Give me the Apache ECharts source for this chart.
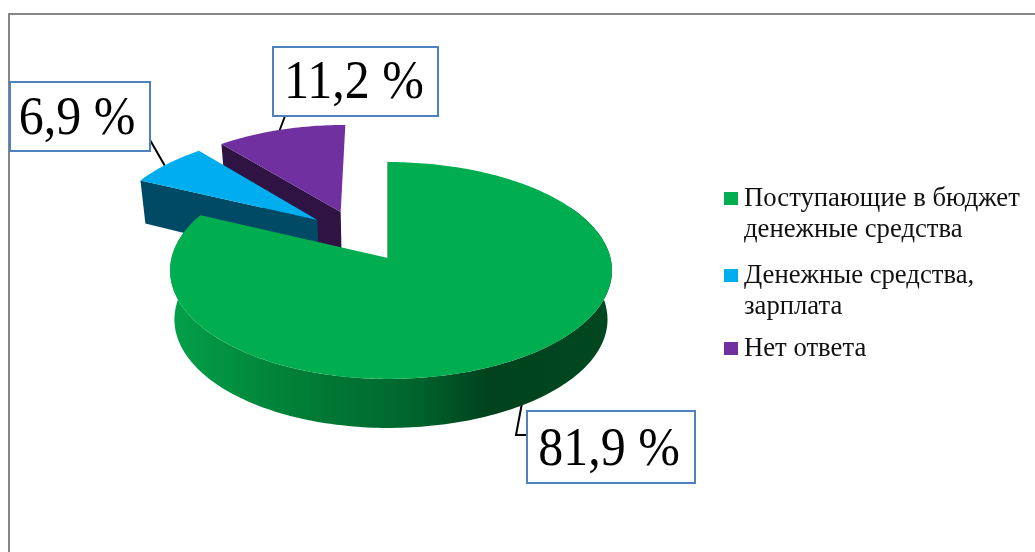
<!DOCTYPE html>
<html>
<head>
<meta charset="utf-8">
<title>Pie</title>
<style>
  html, body { margin: 0; padding: 0; background: #fff; }
  #chart { width: 1035px; height: 552px; }
</style>
<script src="https://cdn.jsdelivr.net/npm/echarts@6/dist/echarts.min.js"></script>
</head>
<body>
<div id="chart"></div>
<script>
// данные с картинки
const categories = ['Поступающие в бюджет\nденежные средства', 'Денежные средства,\nзарплата', 'Нет ответа'];
const shares = [81.9, 6.9, 11.2];

const colors = ['#00ad4f', '#00aeef', '#7030a0'];
const wallColors = ['#00652d', '#004a66', '#2f1443'];
const FONT = '"Liberation Serif", serif';

// перспектива диска: вершина, радиусы, наклон
const CX = 388, CY = 258, KX_LEFT = 216.5, KX_RIGHT = 222.5, KY = 107, P = 0.1152, LOWER_SCALE = 0.98;
// смещение выдвинутых секторов в плоскости диска
const explode = [[0, 0], [-0.34, 0.37], [-0.23, 0.452]];

function project(u, v, lower) {
    const w = 1 + P * v;
    const X = u / w, V = v / w;
    const kx = X < 0 ? KX_LEFT : KX_RIGHT;
    if (!lower) return [CX + kx * X, CY - KY * V];
    const depth = V > 0 ? 49 - 8.4 * V : 49;
    return [CX + kx * X * LOWER_SCALE, CY - KY * V + depth];
}

// углы секторов по часовой стрелке от 12 часов
const total = shares.reduce((a, b) => a + b, 0);
function sliceAngles(i) {
    const before = shares.slice(0, i).reduce((a, b) => a + b, 0);
    return [before / total * 2 * Math.PI, (before + shares[i]) / total * 2 * Math.PI];
}

function rimPoint(i, ang, lower) {
    return project(explode[i][0] + Math.sin(ang), explode[i][1] + Math.cos(ang), lower);
}

function arcPoints(i, from, to, lower) {
    const pts = [];
    const n = Math.max(2, Math.ceil(Math.abs(to - from) / 0.02));
    for (let k = 0; k <= n; k++) pts.push(rimPoint(i, from + (to - from) * k / n, lower));
    return pts;
}

function renderSlice(i) {
    return function () {
        const [a0, a1] = sliceAngles(i);
        const apexTop = project(explode[i][0], explode[i][1], false);
        const apexLow = project(explode[i][0], explode[i][1], true);
        const children = [];
        if (i === 0) {
            // внешняя стенка большого сектора
            const from = 60 * Math.PI / 180;
            const low = arcPoints(i, from, a1, true);
            const top = arcPoints(i, a1, from, false);
            children.push({
                type: 'polygon',
                shape: { points: low.concat(top) },
                style: {
                    fill: new echarts.graphic.LinearGradient(0, 0, 1, 0, [
                        { offset: 0, color: '#04a04a' },
                        { offset: 0.28, color: '#007f37' },
                        { offset: 0.55, color: '#00652d' },
                        { offset: 0.72, color: '#00421d' },
                        { offset: 1, color: '#004820' }
                    ])
                }
            });
            // ребро разреза у 12 часов
            children.push({
                type: 'line',
                shape: { x1: apexTop[0], y1: apexTop[1], x2: rimPoint(i, 0, false)[0], y2: rimPoint(i, 0, false)[1] },
                style: { stroke: '#004d22', lineWidth: 1 }
            });
        } else {
            // стенка по нижнему разрезу
            const cTop = rimPoint(i, a0, false), cLow = rimPoint(i, a0, true);
            children.push({
                type: 'polygon',
                shape: { points: [cTop, apexTop, apexLow, cLow] },
                style: { fill: wallColors[i] }
            });
        }
        children.push({
            type: 'polygon',
            shape: { points: [apexTop].concat(arcPoints(i, a0, a1, false)) },
            style: { fill: colors[i] }
        });
        return { type: 'group', children: children };
    };
}

// рамки подписей и выноски
const labelBoxes = [
    { x: 527, y: 411, w: 168, h: 72, tx: 609, ty: 451, leader: [[522, 403], [516, 435], [527, 435]] },
    { x: 10, y: 82, w: 140, h: 69, tx: 77, ty: 120, leader: [[150, 140], [165, 166]] },
    { x: 273, y: 47, w: 165, h: 69, tx: 354, ty: 84, leader: [[285, 116], [279, 132]] }
];

function renderLeader(params) {
    const b = labelBoxes[params.dataIndex];
    return {
        type: 'polyline',
        shape: { points: b.leader },
        style: { stroke: '#000', fill: 'none', lineWidth: 2 }
    };
}

function renderLabel(params) {
    const b = labelBoxes[params.dataIndex];
    return {
        type: 'group',
        children: [
            {
                type: 'rect',
                shape: { x: b.x, y: b.y, width: b.w, height: b.h },
                style: { fill: '#fff', stroke: '#4f81bd', lineWidth: 2 }
            },
            {
                type: 'text',
                x: b.tx,
                y: b.ty,
                scaleY: 1.08,
                style: {
                    x: 0,
                    y: 0,
                    text: shares[params.dataIndex].toFixed(1).replace('.', ',') + ' %',
                    font: '50px ' + FONT,
                    fill: '#000',
                    align: 'center',
                    verticalAlign: 'middle'
                }
            }
        ]
    };
}

const sliceSeries = shares.map((v, i) => ({
    name: categories[i],
    type: 'custom',
    coordinateSystem: 'none',
    silent: true,
    itemStyle: { color: colors[i] },
    data: [[v]],
    renderItem: renderSlice(i),
    z: 5 - i
}));

// значок в высоту двух строк, квадрат напротив первой
const twoLineIcon = 'path://M0 0H0.01V0.01H0Z M0 9H14V22H0Z M0 61.9H0.01V62H0Z';
const oneLineIcon = 'path://M0 0H0.01V0.01H0Z M0 9H14V22H0Z M0 30.9H0.01V31H0Z';
const legendTops = [183, 260, 333];

const chart = echarts.init(document.getElementById('chart'), null, { renderer: 'canvas' });
chart.setOption({
    animation: false,
    backgroundColor: '#fff',
    graphic: [{
        type: 'rect',
        shape: { x: 9, y: 14, width: 1200, height: 700 },
        style: { fill: 'none', stroke: '#868686', lineWidth: 2 },
        z: 0
    }],
    legend: categories.map((name, i) => ({
        left: 724,
        top: legendTops[i],
        padding: 0,
        selectedMode: false,
        itemWidth: 14,
        itemHeight: i < 2 ? 62 : 31,
        data: [{ name: name, icon: i < 2 ? twoLineIcon : oneLineIcon }],
        textStyle: { fontFamily: FONT, fontSize: 26.7, lineHeight: 31, color: '#111', padding: [0, 0, 0, 1] }
    })),
    series: [
        {
            name: 'leaders',
            type: 'custom',
            coordinateSystem: 'none',
            silent: true,
            data: shares.map(v => [v]),
            renderItem: renderLeader,
            z: 1
        },
        ...sliceSeries,
        {
            name: 'labels',
            type: 'custom',
            coordinateSystem: 'none',
            silent: true,
            data: shares.map(v => [v]),
            renderItem: renderLabel,
            z: 10
        }
    ]
});
</script>
</body>
</html>
